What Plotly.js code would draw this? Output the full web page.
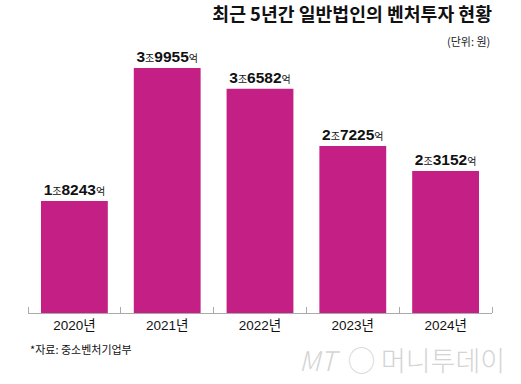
<!DOCTYPE html>
<html>
<head>
<meta charset="utf-8">
<script src="https://cdn.plot.ly/plotly-3.0.1.min.js"></script>
<style>html,body{margin:0;padding:0;background:#fff;}#chart{width:521px;height:384px;}</style>
</head>
<body>
<div id="chart"></div>
<script>
// Data (unit: 억원)
const years = ["2020년", "2021년", "2022년", "2023년", "2024년"];
const values = [18243, 39955, 36582, 27225, 23152];

const xs = years.map((_, i) => i);
const labels = values.map(v => {
  const jo = Math.floor(v / 10000);
  const eok = String(v % 10000).padStart(4, '0');
  return '<b>' + jo + '</b><span style="font-size:10px;font-weight:normal">조</span><b>' + eok + '</b><span style="font-size:10px;font-weight:normal">억</span>';
});

const NUMFONT = '"Liberation Sans Narrow", "Arial Narrow", "Liberation Sans", Arial, "Noto Sans CJK KR", sans-serif';
const KFONT = '"Noto Sans CJK KR", "Liberation Sans", sans-serif';

const trace = {
  type: 'bar',
  x: xs,
  y: values,
  text: labels,
  textposition: 'outside',
  cliponaxis: false,
  textfont: {family: NUMFONT, size: 15.5, color: '#111'},
  marker: {color: '#C41F84', line: {width: 0}},
  hoverinfo: 'skip',
  width: 0.72
};

const layout = {
  width: 521, height: 384,
  margin: {l: 28, r: 29, t: 37, b: 71},
  paper_bgcolor: '#fff', plot_bgcolor: '#fff',
  showlegend: false,
  title: {
    text: '<b>최근 5년간 일반법인의 벤처투자 현황</b>',
    font: {family: KFONT, size: 18.3, color: '#111'},
    xref: 'paper', x: 1, xanchor: 'right',
    yref: 'container', y: 0.961, yanchor: 'middle'
  },
  xaxis: {
    type: 'linear',
    range: [-0.5, 4.5],
    tickmode: 'array',
    tickvals: xs,
    ticktext: years,
    ticks: '', ticklen: 0,
    tickfont: {family: '"Liberation Sans", Arial, "Noto Sans CJK KR", sans-serif', size: 13.5, color: '#111'},
    showline: true, linecolor: '#aaa', linewidth: 1,
    showgrid: false, zeroline: false,
    fixedrange: true,
    minor: {
      tickmode: 'array',
      tickvals: [-0.5, 0.5, 1.5, 2.5, 3.5, 4.5],
      ticks: 'inside', ticklen: 6, tickcolor: '#aaa', tickwidth: 1,
      showgrid: false
    }
  },
  yaxis: {
    range: [0, 45000],
    visible: false,
    showgrid: false, zeroline: false,
    fixedrange: true
  },
  annotations: [
    {
      text: '(단위: 원)', xref: 'paper', yref: 'paper', x: 1, y: 0.9855,
      xanchor: 'right', yanchor: 'middle', showarrow: false,
      font: {family: KFONT, size: 11, color: '#222'}
    },
    {
      text: '*자료: 중소벤처기업부', xref: 'paper', yref: 'paper', x: 0, y: -0.13,
      xanchor: 'left', yanchor: 'middle', showarrow: false,
      font: {family: KFONT, size: 11, color: '#111'}
    },
    {
      text: '<i>MT</i>  ◯ 머니투데이', xref: 'paper', yref: 'paper', x: 1.032, y: -0.17,
      xanchor: 'right', yanchor: 'middle', showarrow: false,
      font: {family: KFONT, size: 27, color: '#d4d4d4', weight: 300}
    }
  ]
};

Plotly.newPlot('chart', [trace], layout, {displayModeBar: false, staticPlot: true});
</script>
</body>
</html>
